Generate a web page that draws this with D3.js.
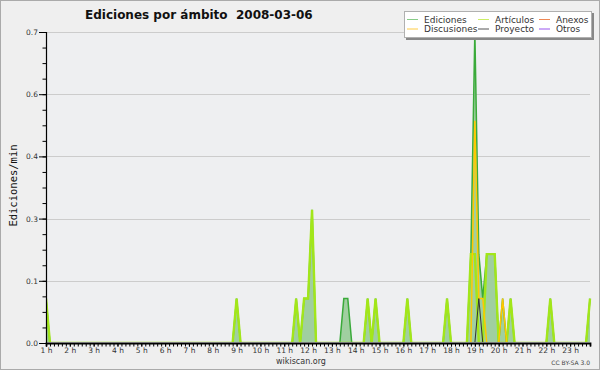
<!DOCTYPE html>
<html>
<head>
<meta charset="utf-8">
<script src="https://cdn.jsdelivr.net/npm/d3@7/dist/d3.min.js"></script>
<style>
  html, body { margin: 0; padding: 0; background: #efefef; }
  svg { display: block; }
  text { font-family: "DejaVu Sans", sans-serif; }
</style>
</head>
<body>
<div id="chart"></div>
<script>
// ---- data (local time "HH:MM", edits per minute, 10-minute bins; unlisted bins are 0) ----
const chartTitle = "Ediciones por ámbito  2008-03-06";
const yTitle = "Ediciones/min";
const firstBin = "01:00";
const lastBin = "23:50";
const binMinutes = 10;

const ediciones = [
  ["01:00", 0.1], ["09:00", 0.1], ["11:30", 0.1], ["11:50", 0.1], ["12:00", 0.1], ["12:10", 0.3],
  ["13:30", 0.1], ["13:40", 0.1], ["14:30", 0.1], ["14:50", 0.1], ["16:10", 0.1], ["17:50", 0.1],
  ["18:50", 0.2], ["19:00", 0.7], ["19:10", 0.2], ["19:20", 0.1], ["19:30", 0.2], ["19:40", 0.2],
  ["19:50", 0.2], ["20:10", 0.1], ["20:30", 0.1], ["22:10", 0.1], ["23:50", 0.1]
];
const articulos = [
  ["01:00", 0.1], ["09:00", 0.1], ["11:30", 0.1], ["11:50", 0.1], ["12:00", 0.1], ["12:10", 0.3],
  ["14:30", 0.1], ["14:50", 0.1], ["16:10", 0.1], ["17:50", 0.1], ["18:50", 0.2], ["19:00", 0.2],
  ["19:30", 0.2], ["19:40", 0.2], ["19:50", 0.2], ["20:30", 0.1], ["22:10", 0.1], ["23:50", 0.1]
];
const anexos = [];
const discusiones = [["19:00", 0.5], ["19:10", 0.1], ["19:20", 0.1], ["20:10", 0.1]];
const proyecto = [["19:10", 0.1]];
const otros = [];

const seriesNames = ["Ediciones", "Artículos", "Anexos", "Discusiones", "Proyecto", "Otros"];
const seriesColors = ["#88cc88", "#ccee66", "#ee8855", "#ffcc44", "#555555", "#9955ee"];

const hourTicks = [1,2,3,4,5,6,7,8,9,10,11,12,13,14,15,16,17,18,19,20,21,22,23];
const hourLabels = ["1 h","2 h","3 h","4 h","5 h","6 h","7 h","8 h","9 h","10 h","11 h","12 h",
  "13 h","14 h","15 h","16 h","17 h","18 h","19 h","20 h","21 h","22 h","23 h"];
const yTicks = [0, 0.14, 0.28, 0.42, 0.56, 0.7];
const yTickLabels = ["0.0", "0.1", "0.3", "0.4", "0.6", "0.7"];
const yMax = 0.7;

// ---- build ----
const W = 600, H = 370;
const toMin = s => { const [h, m] = s.split(":").map(Number); return h * 60 + m; };
const t0 = toMin(firstBin), t1 = toMin(lastBin);
const bins = d3.range(t0, t1 + 1, binMinutes);
const full = sparse => {
  const m = new Map(sparse.map(([t, v]) => [toMin(t), v]));
  return bins.map(t => ({ t, v: m.get(t) || 0 }));
};

const svg = d3.select("#chart").append("svg").attr("width", W).attr("height", H);
svg.append("rect").attr("x", 0.5).attr("y", 0.5).attr("width", W - 1).attr("height", H - 1)
  .attr("fill", "#efefef").attr("stroke", "#aaaaaa");

const x = d3.scaleLinear().domain([t0, t1]).range([46, 590]);
const y = d3.scaleLinear().domain([0, yMax]).range([343, 32]);

// plot background
svg.append("rect").attr("x", x.range()[0]).attr("y", y(yMax))
  .attr("width", x.range()[1] - x.range()[0]).attr("height", y(0) - y(yMax))
  .attr("fill", "#eeeff1");

// grid
svg.append("g").selectAll("line").data(yTicks.slice(1)).join("line")
  .attr("x1", x.range()[0]).attr("x2", x.range()[1])
  .attr("y1", d => Math.round(y(d)) + 0.5).attr("y2", d => Math.round(y(d)) + 0.5)
  .attr("stroke", "#cccccc").attr("stroke-width", 1);

svg.append("clipPath").attr("id", "plotclip").append("rect")
  .attr("x", x.range()[0]).attr("y", 0).attr("width", x.range()[1] - x.range()[0] + 2)
  .attr("height", y(0) - 1);

const line = d3.line().x(d => x(d.t)).y(d => y(d.v));
const area = d3.area().x(d => x(d.t)).y0(y(0)).y1(d => y(d.v));

const plot = svg.append("g").attr("clip-path", "url(#plotclip)");
const edData = full(ediciones);
plot.append("path").datum(edData).attr("d", area).attr("fill", "#a0cfa0");
plot.append("path").datum(edData).attr("d", line).attr("fill", "none")
  .attr("stroke", "#3aaa3a").attr("stroke-width", 1.5);
plot.append("path").datum(full(articulos)).attr("d", line).attr("fill", "none")
  .attr("stroke", "#a2e61a").attr("stroke-width", 2.4);
plot.append("path").datum(full(anexos)).attr("d", line).attr("fill", "none")
  .attr("stroke", "#ee8855").attr("stroke-width", 1);
plot.append("path").datum(full(otros)).attr("d", line).attr("fill", "none")
  .attr("stroke", "#9955ee").attr("stroke-width", 1);
plot.append("path").datum(full(discusiones)).attr("d", line).attr("fill", "none")
  .attr("stroke", "#ffc800").attr("stroke-width", 1.5);
plot.append("path").datum(full(proyecto)).attr("d", line).attr("fill", "none")
  .attr("stroke", "#333333").attr("stroke-width", 1);

// y axis
const yMinor = d3.range(0, yMax + 1e-9, yMax / 20);
const yAxisMinor = d3.axisLeft(y).tickValues(yMinor).tickSize(3.5).tickFormat("");
const yAxis = d3.axisLeft(y).tickValues(yTicks).tickSize(7).tickPadding(1)
  .tickFormat((d, i) => yTickLabels[i]);
const gyMinor = svg.append("g").attr("transform", `translate(${x.range()[0]},0)`).call(yAxisMinor);
gyMinor.select(".domain").remove();
const gy = svg.append("g").attr("transform", `translate(${x.range()[0]},0)`).call(yAxis);
gy.selectAll("text").attr("font-size", "7.5px").attr("fill", "#333").style("font-family", "DejaVu Sans");
gy.select(".domain").attr("stroke", "#000").attr("stroke-width", 1.2);

// x axis
const xAxisMinor = d3.axisBottom(x).tickValues(bins).tickSize(3.5).tickFormat("");
const gxMinor = svg.append("g").attr("transform", `translate(0,${y(0)})`).call(xAxisMinor);
gxMinor.select(".domain").remove();
const xAxis = d3.axisBottom(x).tickValues(hourTicks.map(h => h * 60)).tickSize(3.5).tickPadding(1.5)
  .tickFormat((d, i) => hourLabels[i]);
const gx = svg.append("g").attr("transform", `translate(0,${y(0)})`).call(xAxis);
gx.selectAll("text").attr("font-size", "7.5px").attr("fill", "#333").style("font-family", "DejaVu Sans");
gx.select(".domain").attr("stroke", "#000").attr("stroke-width", 1.8);

// title
svg.append("text").attr("x", 85).attr("y", 18.5).attr("xml:space", "preserve")
  .style("white-space", "pre")
  .attr("font-size", "12px").attr("font-weight", "bold").attr("fill", "#111").text(chartTitle);

// y title
svg.append("text").attr("transform", "translate(16.5,185.5) rotate(-90)")
  .attr("text-anchor", "middle").style("font-family", "DejaVu Sans Mono")
  .attr("font-size", "10.5px").attr("fill", "#111").text(yTitle);

// footer
svg.append("text").attr("x", 301).attr("y", 364).attr("text-anchor", "middle")
  .attr("font-size", "8px").attr("fill", "#333").text("wikiscan.org");
svg.append("text").attr("x", 590).attr("y", 364.5).attr("text-anchor", "end")
  .attr("font-size", "6px").attr("fill", "#444").text("CC BY-SA 3.0");

// legend
const lg = svg.append("g");
lg.append("rect").attr("x", 406).attr("y", 13).attr("width", 188).attr("height", 27).attr("fill", "#888");
lg.append("rect").attr("x", 404.5).attr("y", 11.5).attr("width", 187).attr("height", 26)
  .attr("fill", "#ffffff").attr("stroke", "#b0b0b0");
const colX = [407, 478, 539];
const rowY = [19.5, 29];
seriesNames.forEach((name, i) => {
  const r = Math.floor(i / 3), c = i % 3;
  const lx = colX[c], ly = rowY[r];
  lg.append("line").attr("x1", lx).attr("x2", lx + 11).attr("y1", ly).attr("y2", ly)
    .attr("stroke", seriesColors[i]).attr("stroke-width", 1);
  lg.append("text").attr("x", lx + 17).attr("y", ly + 3.2).attr("font-size", "9px")
    .attr("fill", "#333").text(name);
});
</script>
</body>
</html>
